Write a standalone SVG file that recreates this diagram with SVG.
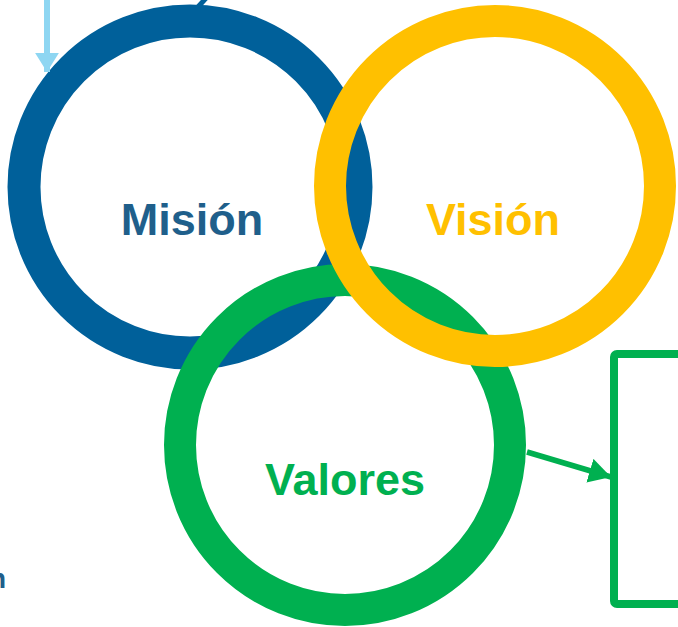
<svg xmlns="http://www.w3.org/2000/svg" width="678" height="627" viewBox="0 0 678 627">
<defs>
<style>
.ring{fill:none}
.lbl{font-family:"Liberation Sans",Arial,sans-serif;font-weight:bold;font-size:45px;text-anchor:middle}
</style>
<marker id="ahBlue" markerWidth="4" markerHeight="4" refX="3.2" refY="2" orient="auto" markerUnits="strokeWidth">
<path d="M0,0 L3.2,2 L0,4 Z" fill="#8ED6F2"/>
</marker>
<marker id="ahGreen" markerWidth="5" markerHeight="5" refX="4" refY="2.25" orient="auto" markerUnits="strokeWidth">
<path d="M0,0 L4,2.25 L0,4.5 Z" fill="#00B050"/>
</marker>
</defs>
<rect width="678" height="627" fill="#FFFFFF"/>
<g id="mision">
<circle class="ring" cx="190" cy="187" r="166" stroke="#00609A" stroke-width="33"/>
</g>
<g id="valores">
<circle class="ring" cx="345" cy="445" r="165" stroke="#00B050" stroke-width="32"/>
</g>
<g id="vision">
<circle class="ring" cx="495" cy="186" r="165" stroke="#FFC000" stroke-width="32"/>
</g>
<g id="labels">
<text class="lbl" x="192" y="235" fill="#1F5F8B">Misión</text>
<text class="lbl" x="493" y="235" fill="#FFC000">Visión</text>
<text class="lbl" x="345" y="495" fill="#00B050">Valores</text>
</g>
<g id="box">
<rect x="614" y="354" width="80" height="250" rx="3" fill="none" stroke="#00B050" stroke-width="8"/>
</g>
<g id="partial-text">
<text x="6" y="588" font-family="'Liberation Sans',Arial,sans-serif" font-weight="bold" font-size="28" fill="#1F5F8B" text-anchor="end">n</text>
</g>
<g id="connectors">
<line x1="47" y1="0" x2="47" y2="72" stroke="#8ED6F2" stroke-width="6" marker-end="url(#ahBlue)"/>
<line x1="198" y1="7" x2="207" y2="-3" stroke="#00609A" stroke-width="5"/>
<line x1="527" y1="452" x2="611" y2="477" stroke="#00B050" stroke-width="5.5" marker-end="url(#ahGreen)"/>
</g>
</svg>
